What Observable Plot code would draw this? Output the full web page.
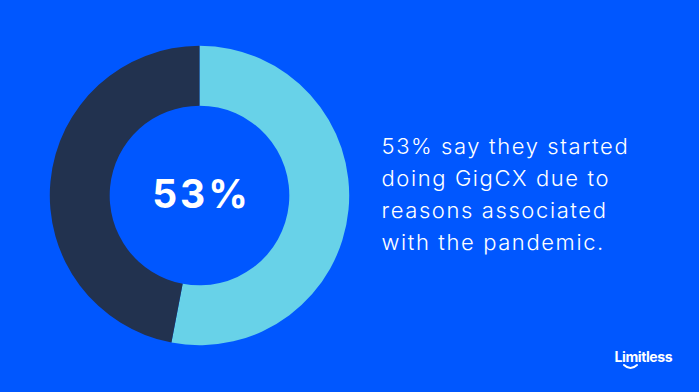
<!DOCTYPE html>
<html>
<head>
<meta charset="utf-8">
<script src="https://cdn.jsdelivr.net/npm/d3@7"></script>
<script src="https://cdn.jsdelivr.net/npm/@observablehq/plot@0.6"></script>
<style>
  html, body { margin: 0; padding: 0; background: #0057FF; overflow: hidden; }
  #chart { width: 699px; height: 392px; }
</style>
</head>
<body>
<div id="chart"></div>
<script>
// ---- data ----
const categories = ["Pandemic-related reasons", "Other reasons"];
const values = [53, 47];
const sliceColors = ["#68D2E8", "#22324F"];
const centerLabel = "53%";
const statementLines = ["53% say they started", "doing GigCX due to", "reasons associated", "with the pandemic."];
const brand = "Limitless";

// ---- layout ----
const W = 699, H = 392;
const cx = 199.5, cy = 195.5, R = 149.7, innerRatio = 0.6;

const slices = categories.map((c, i) => ({category: c, value: values[i]}));
const pie = d3.pie().sort(null).value(d => d.value)(slices);

// donut mark drawn through Plot's x/y scales
function donut(index, scales, vals, dims) {
  const x0 = scales.x(0), y0 = scales.y(0);
  const r = Math.abs(scales.x(1) - scales.x(0));
  const arc = d3.arc().innerRadius(r * innerRatio).outerRadius(r);
  const g = d3.create("svg:g").attr("transform", `translate(${x0},${y0})`);
  g.selectAll("path").data(pie).join("path")
    .attr("d", arc)
    .attr("fill", d => scales.color(d.data.category));
  return g.node();
}

// brand smile under the logo
function smile(index, scales, vals, dims) {
  const g = d3.create("svg:g");
  g.append("path")
    .attr("d", "M624,365 Q630.5,371 637,365")
    .attr("fill", "none").attr("stroke", "white")
    .attr("stroke-width", 2).attr("stroke-linecap", "round");
  return g.node();
}

const plot = Plot.plot({
  width: W, height: H,
  margin: 0,
  style: {background: "#0057FF", overflow: "visible"},
  x: {domain: [-1, 1], range: [cx - R, cx + R], axis: null},
  y: {domain: [-1, 1], range: [cy + R, cy - R], axis: null},
  color: {domain: categories, range: sliceColors},
  marks: [
    donut,
    Plot.text([centerLabel], {
      x: () => 0, y: () => 0, text: d => d,
      fill: "white", fontSize: 39, fontWeight: 700,
      fontFamily: "Inter", textAnchor: "middle", dx: 1.5, dy: 0
    }),
    Plot.text([statementLines.join("\n")], {
      frameAnchor: "left", text: d => d,
      dx: 381, dy: -5, textAnchor: "start", lineAnchor: "middle",
      lineHeight: 32 / 22,
      fill: "white", fontSize: 22, fontWeight: 300, fontFamily: "Inter"
    }),
    Plot.text([brand], {
      frameAnchor: "bottom-left", text: d => d,
      dx: 614, dy: -30.5, textAnchor: "start", lineAnchor: "bottom",
      fill: "white", fontSize: 14, fontWeight: 700, fontFamily: "Inter"
    }),
    smile
  ]
});
const spacingFor = {[centerLabel]: "3px", [statementLines[0]]: "1.6px", [brand]: "-0.4px"};
d3.select(plot).selectAll("text").each(function () {
  const first = this.querySelector("tspan") ? this.querySelector("tspan").textContent : this.textContent;
  const s = spacingFor[first];
  if (s) d3.select(this).style("letter-spacing", s);
});
document.getElementById("chart").appendChild(plot);
</script>
</body>
</html>
